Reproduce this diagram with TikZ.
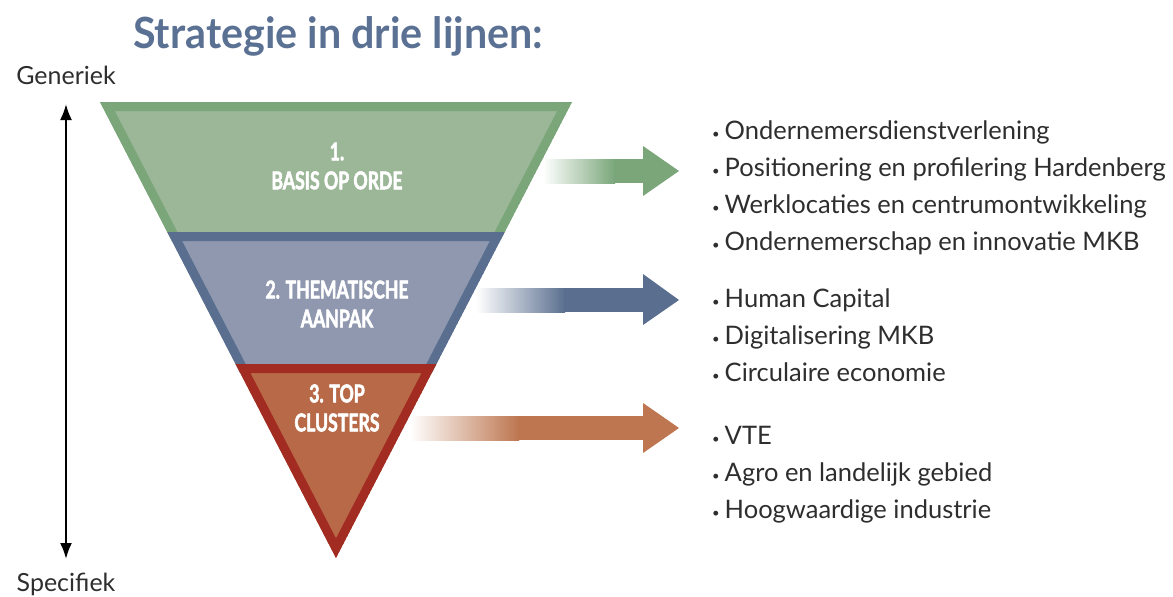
\documentclass[tikz,border=0pt]{standalone}
\usepackage{fontspec}
\setmainfont{Lato}
\newfontfamily\titlefont[FakeStretch=0.96]{Lato}
\newfontfamily\condfont[FakeStretch=0.72, FakeBold=2.2]{Lato}
\usetikzlibrary{arrows.meta}

\definecolor{greenline}{HTML}{7AA67A}
\definecolor{greenfill}{HTML}{9BB797}
\definecolor{blueline}{HTML}{5A6F8F}
\definecolor{bluefill}{HTML}{8F98AE}
\definecolor{redline}{HTML}{A22B22}
\definecolor{redfill}{HTML}{B86A48}
\definecolor{orangearrow}{HTML}{BD7650}
\definecolor{titleblue}{HTML}{5B7194}

\newcommand{\bul}{{\fontsize{13}{13}\selectfont\raisebox{1pt}{•}}\hspace{5pt}}

\tikzset{
  bandlabel/.style={anchor=center, align=center, text=white,
    font=\condfont\bfseries\fontsize{24.5}{29}\selectfont},
  item/.style={anchor=base west, inner sep=0pt, text=black!82,
    font=\fontsize{25.5}{30}\selectfont},
  side/.style={anchor=base, inner sep=0pt, text=black!82,
    font=\fontsize{25}{30}\selectfont}
}

\begin{document}
\begin{tikzpicture}[x=1pt, y=-1pt]
	\useasboundingbox (0,0) rectangle (1173,597);

	\node[anchor=base west, inner sep=0pt, text=titleblue,
		font=\titlefont\bfseries\fontsize{43}{43}\selectfont]
		(title) at (133,48) {Strategie in drie lijnen:};

	% funnel
	\begin{scope}
		\clip (100,102) -- (572,102) -- (500.1,241) -- (171.9,241) -- cycle;
		\draw[line width=18pt, draw=greenline, fill=greenfill]
		(100,102) -- (572,102) -- (500.1,241) -- (171.9,241) -- cycle;
	\end{scope}
	\begin{scope}
		\clip (167.3,232) -- (504.7,232) -- (431.8,373) -- (240.2,373) -- cycle;
		\draw[line width=18pt, draw=blueline, fill=bluefill]
		(167.3,232) -- (504.7,232) -- (431.8,373) -- (240.2,373) -- cycle;
	\end{scope}
	\begin{scope}
		\clip (235.6,364) -- (436.4,364) -- (336,558) -- cycle;
		\draw[line width=18pt, draw=redline, fill=redfill]
		(235.6,364) -- (436.4,364) -- (336,558) -- cycle;
	\end{scope}

	\node[bandlabel] (lab1) at (337,166) {1.\\BASIS OP ORDE};
	\node[bandlabel] (lab2) at (337,304) {2. THEMATISCHE\\AANPAK};
	\node[bandlabel] (lab3) at (337,408) {3. TOP\\CLUSTERS};

	% arrows to the lists
	\shade[left color=white, right color=greenline] (543,159) rectangle (615,183);
	\fill[greenline] (614,159) rectangle (644,183);
	\fill[greenline] (643,146) -- (679,171) -- (643,196) -- cycle;

	\shade[left color=white, right color=blueline] (476,288) rectangle (565,312);
	\fill[blueline] (564,288) rectangle (644,312);
	\fill[blueline] (643,274) -- (679,300) -- (643,325) -- cycle;

	\shade[left color=white, right color=orangearrow] (410,416) rectangle (519,440);
	\fill[orangearrow] (518,416) rectangle (644,440);
	\fill[orangearrow] (643,403) -- (679,428) -- (643,453) -- cycle;

	% lists
	\node[item] (i1) at (712,139.5) {\bul Ondernemersdienstverlening};
	\node[item] (i2) at (712,176.5) {\bul Positionering en profilering Hardenberg};
	\node[item] (i3) at (712,213.5) {\bul Werklocaties en centrumontwikkeling};
	\node[item] (i4) at (712,250) {\bul Ondernemerschap en innovatie MKB};

	\node[item] (i5) at (712,307) {\bul Human Capital};
	\node[item] (i6) at (712,344) {\bul Digitalisering MKB};
	\node[item] (i7) at (712,381) {\bul Circulaire economie};

	\node[item] (i8) at (712,444) {\bul VTE};
	\node[item] (i9) at (712,481) {\bul Agro en landelijk gebied};
	\node[item] (i10) at (712,518) {\bul Hoogwaardige industrie};

	% generic - specific axis
	\node[side] (gen) at (66,84) {Generiek};
	\node[side] (spec) at (66,591) {Specifiek};
	\coordinate (up) at (66,104);
	\coordinate (down) at (66,559);
	\draw[line width=2.2pt, {Latex[length=16pt,width=12pt]}-{Latex[length=16pt,width=12pt]}]
		(up) -- (down);
\end{tikzpicture}
\end{document}
